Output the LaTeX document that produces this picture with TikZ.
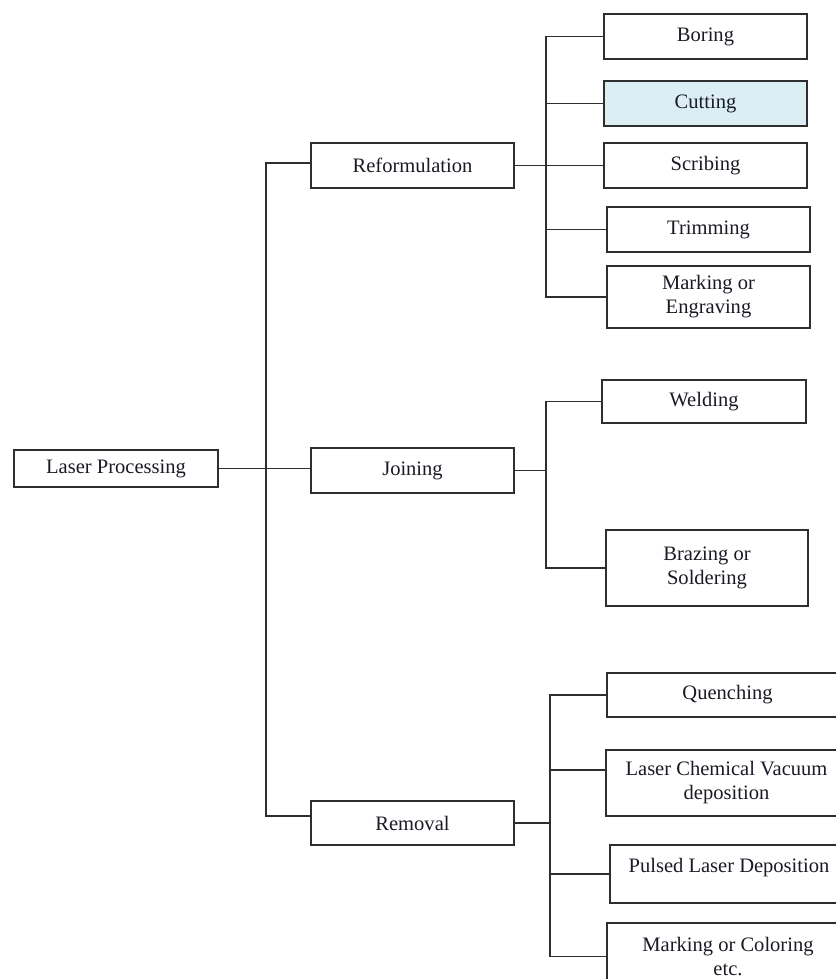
\documentclass[tikz,border=0pt]{standalone}
\usepackage{fontspec}
\setmainfont{Liberation Serif}
\usetikzlibrary{calc}
\definecolor{cutfill}{HTML}{DAEEF3}
\definecolor{linecol}{HTML}{2E2E2E}
\definecolor{txtcol}{HTML}{1A1A24}
\begin{document}
\begin{tikzpicture}[x=0.75pt,y=-0.75pt,
  box/.style={draw=linecol, line width=1.4pt, rectangle, inner sep=0pt, align=center,
    font=\fontsize{15.4pt}{18pt}\selectfont, text=txtcol},
  sz/.style 2 args={minimum width=#1*0.75pt, minimum height=#2*0.75pt},
  conn/.style={draw=linecol, line width=1.4pt}]
\useasboundingbox (0,0) rectangle (836,979);
\clip (0,0) rectangle (836,979);

% level 0 and 1
\node[box, sz={204}{37}] (lp) at (116,468.5) {Laser Processing};
\node[box, sz={203}{45}] (reform) at (412.5,165.5) {Reformulation};
\node[box, sz={203}{45}] (join) at (412.5,470.5) {Joining};
\node[box, sz={203}{44}] (removal) at (412.5,823) {Removal};

% Reformulation children
\node[box, sz={203}{45}] (boring) at (705.5,36.5) {Boring};
\node[box, sz={203}{45}, fill=cutfill] (cutting) at (705.5,103.5) {Cutting};
\node[box, sz={203}{45}] (scribing) at (705.5,165.5) {Scribing};
\node[box, sz={203}{45}] (trimming) at (708.5,229.5) {Trimming};
\node[box, sz={203}{62}] (markeng) at (708.5,297) {Marking or\\Engraving};

% Joining children
\node[box, sz={204}{43}] (welding) at (704,401.5) {Welding};
\node[box, sz={202}{76}] (brazing) at (707,568) {Brazing or\\Soldering};

% Removal children
\node[box, sz={241}{44}] (quench) at (727.5,695) {Quenching};
\node[box, sz={241}{66}] (lcvd) at (726.5,783) {Laser Chemical Vacuum\\deposition};
\node[box, sz={238}{58}] (pld) at (729,874) {Pulsed Laser Deposition\\[-5pt]\mbox{}};
\node[box, sz={242}{67}] (markcol) at (728,956.5) {Marking or Coloring\\etc.};

% trunk
\draw[conn] (lp.east) -- (lp.east -| join.west);
\coordinate (tk) at (266,470);
\coordinate (rw) at ($(reform.west)+(0,-2.5)$);
\coordinate (mw) at ($(removal.west)+(0,-7)$);
\draw[conn] (rw) -| (tk) |- (mw);

% Reformulation branch
\coordinate (rb) at (546,165);
\draw[conn] (reform.east) -- (scribing.west);
\draw[conn] (boring.west) -- (boring.west -| rb) -- (markeng.west -| rb) -- (markeng.west);
\draw[conn] (cutting.west) -- (cutting.west -| rb);
\draw[conn] (trimming.west) -- (trimming.west -| rb);

% Joining branch
\coordinate (jb) at (546,470);
\draw[conn] (join.east) -- (join.east -| jb);
\draw[conn] (welding.west) -- (welding.west -| jb) -- (brazing.west -| jb) -- (brazing.west);

% Removal branch
\coordinate (mb) at (550,823);
\draw[conn] (removal.east) -- (removal.east -| mb);
\draw[conn] (quench.west) -- (quench.west -| mb) -- (markcol.west -| mb) -- (markcol.west);
\coordinate (lcvdc) at ($(lcvd.west)+(0,-13)$);
\draw[conn] (lcvdc) -- (lcvdc -| mb);
\draw[conn] (pld.west) -- (pld.west -| mb);
\end{tikzpicture}
\end{document}
